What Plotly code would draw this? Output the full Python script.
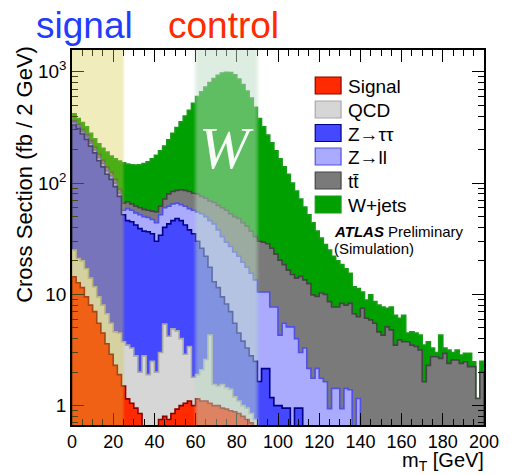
import plotly.graph_objects as go

# ---------------- data (2 GeV bins, 0-200 GeV) ----------------
bin_edges = list(range(0, 202, 2))

signal = [14.4, 12.7, 11.5, 9.5, 8.0, 7.0, 5.5, 4.5, 3.6, 2.9, 2.3, 1.9, 1.5,
          1.15, 1.05, 0.95, 0.85, 0.6, 0.55, 0.6, 0.62, 0.75, 0.8, 0.75, 0.85, 0.93, 1.0, 1.05, 1.1, 1.0,
          1.15, 1.1, 1.1, 1.05, 1.0, 1.0, 0.95, 0.93, 0.9, 0.88, 0.85, 0.8, 0.75, 0.7, 0.65,
          0, 0, 0, 0, 0, 0, 0, 0, 0, 0, 0, 0, 0, 0, 0, 0, 0, 0, 0, 0, 0, 0,
          0, 0, 0, 0, 0, 0, 0, 0, 0, 0, 0, 0, 0, 0, 0, 0, 0, 0, 0, 0, 0, 0,
          0, 0, 0, 0, 0, 0, 0, 0, 0, 0, 0]

qcd = [10.6, 8.3, 8.5, 7.5, 6.0, 4.7, 4.0, 3.5, 3.1, 2.6, 2.3, 2.6, 2.25,
       2.35, 2.25, 1.85, 1.15, 2.2, 1.35, 1.9, 1.38, 2.25, 4.6, 3.45, 4.05, 3.77, 3.0, 1.85, 2.3, 0.8,
       0.75, 1.0, 1.5, 3.25, 0.55, 0.5, 0.6, 0.52, 0.5, 0.32, 0.25, 0.2, 0.2, 0.15, 0.1,
       0, 0, 0, 0, 0, 0, 0, 0, 0, 0, 0, 0, 0, 0, 0, 0, 0, 0, 0, 0, 0, 0,
       0, 0, 0, 0, 0, 0, 0, 0, 0, 0, 0, 0, 0, 0, 0, 0, 0, 0, 0, 0, 0, 0,
       0, 0, 0, 0, 0, 0, 0, 0, 0, 0, 0]

ztautau = [308, 289, 256, 230, 201, 175.3, 149.5, 132, 113.3, 102.5, 88.4, 71.5, 48.25,
           42.5, 41.7, 39.2, 37, 34.2, 34.6, 32.5, 28, 31, 34.6, 38.8, 41.1, 43.3, 42, 39.1, 34.6, 33.2,
           28.1, 23.9, 19.4, 13.2, 11.45, 10.0, 7.95, 6.75, 5.6, 4.3, 3.4, 2.8, 2.35, 1.95, 1.75,
           1.65, 2.15, 2.15, 1.18, 1.0, 1.0, 0.95, 0.95, 0.6, 0.95, 0.95,
           0, 0, 0, 0, 0, 0, 0, 0, 0, 0, 0, 0, 0, 0, 0, 0, 0, 0, 0, 0, 0, 0,
           0, 0, 0, 0, 0, 0, 0, 0, 0, 0, 0, 0, 0, 0, 0, 0, 0, 0, 0, 0, 0, 0]

zll = [15, 15, 14, 13, 13, 11, 11, 10, 9, 8, 7, 5, 5,
       13, 12, 12, 13, 13, 12.5, 12, 14, 18, 20, 19, 19, 18, 18, 20, 21, 22,
       25, 27, 28, 28.5, 30, 26.5, 23.5, 21.3, 20, 18.5, 17.5, 15.7, 14.2, 12.7, 11,
       8.85, 8.35, 8.35, 6.52, 6.7, 3.3, 4.55, 4.15, 4.5, 3.05, 2.05, 3.3, 2.16, 1.76, 2.16,
       1.76, 1.64, 0.94, 1.43, 1.43, 0.94, 1.43, 1.39, 0, 1.16,
       0, 0, 0, 0, 0, 0, 0, 0, 0, 0, 0, 0, 0, 0, 0,
       0, 0, 0, 0, 0, 0, 0, 0, 0, 0, 0, 0, 0, 0, 0]

ttbar = [14, 13, 12, 12, 12, 12, 11, 10, 10, 9, 8, 7, 9,
         9, 8, 8, 8, 8, 8, 9, 11, 10, 12, 18, 19, 20, 23, 24, 25, 24,
         25, 23, 23, 23, 24, 25, 27, 27.5, 26, 26, 26, 24.5, 23.5, 21.5, 19.5,
         19.5, 19, 18, 18.3, 15.3, 16, 13, 11.4, 10, 10, 11.5, 10.2, 10.34, 8.14, 7.44,
         8.54, 8.36, 7.66, 6.27, 6.27, 7.36, 6.57,
         6.91, 6.7, 5.14, 7.5, 6.1, 5.9, 5.5, 4.6, 4.3, 5.1, 4.8, 3.5, 3.9, 3.75, 3.75,
         3.5, 3.4, 3.16, 1.64, 2.3, 2.75, 2.75, 2.66, 2.95, 2.4, 2.57, 2.57, 2.4, 2.48,
         2.24, 2.24, 1.16, 2.0]

wjets = [58, 42, 48, 48, 40, 40, 44, 45, 51, 50, 57, 70, 86,
         80, 81, 83, 86, 92, 98, 109, 123, 133, 143, 165, 196, 229, 268, 314, 366, 439,
         520, 584, 657, 731, 803, 867, 915, 933, 932, 890, 812, 726, 629, 543, 447,
         350, 290.5, 241.5, 204, 172, 144.7, 121.5, 103.5, 84.9, 71, 57.5, 47.5, 39.5, 34.1, 27.4,
         21.7, 18, 16.4, 14.3, 12.3, 10.2, 9.0,
         7.2, 5.0, 5.0, 3.0, 2.8, 4.0, 3.1, 3.4, 3.4, 2.4, 2.9, 3.0, 2.2, 2.75, 0.75,
         1.1, 1.1, 1.14, 1.86, 1.45, 0.55, 0.25, 1.64, 0.35, 0.76, 0.43, 0.59, 0.45, 0.47,
         0.71, 0.24, 0.0, 0.5]

legend_labels = ["Signal", "QCD", "Z\u2192\u03c4\u03c4", "Z\u2192ll", "tt\u0304", "W+jets"]
x_tick_vals = [0, 20, 40, 60, 80, 100, 120, 140, 160, 180, 200]
y_tick_vals = [1, 10, 100, 1000]
y_tick_text = ["1", "10", "10<sup>2</sup>", "10<sup>3</sup>"]
y_minor_vals = [0.7, 0.8, 0.9, 2, 3, 4, 5, 6, 7, 8, 9, 20, 30, 40, 50, 60, 70, 80, 90,
                200, 300, 400, 500, 600, 700, 800, 900]

# ---------------- styles ----------------
fills = ["#ff2a00", "#d6d6d6", "#4448ff", "#aaaaff", "#7a7a7a", "#00a000"]
lines = ["#8a0000", "#a8a8a8", "#00008a", "#5050e6", "#444444", "#1a9a1a"]

W, H = 511, 475
L, R, T, B = 72, 24, 50, 50
pw, ph = W - L - R, H - T - B


def px(xp):
    return (xp - L) / pw


def py(yp):
    return (H - B - yp) / ph


series = [signal, qcd, ztautau, zll, ttbar, wjets]
nb = len(bin_edges) - 1
cum = []
run = [0.0] * nb
for s in series:
    run = [run[i] + s[i] for i in range(nb)]
    cum.append(run)

floor = 1e-3
fig = go.Figure()
for k in range(len(series) - 1, -1, -1):
    xs, ys = [bin_edges[0]], [floor]
    for i in range(nb):
        v = max(cum[k][i], floor)
        xs += [bin_edges[i], bin_edges[i + 1]]
        ys += [v, v]
    xs.append(bin_edges[-1])
    ys.append(floor)
    fig.add_trace(go.Scatter(x=xs, y=ys, mode="lines", fill="toself",
                             fillcolor=fills[k], line=dict(color=lines[k], width=1.6),
                             hoverinfo="skip", showlegend=False))

shapes = []
# yellow "signal" band 0-25 GeV
shapes.append(dict(type="rect", xref="x", yref="paper", x0=0, x1=24.6, y0=0, y1=1,
                   fillcolor="rgba(215,200,60,0.35)", line=dict(width=0), layer="above"))
for j, a in enumerate([0.24, 0.12]):
    shapes.append(dict(type="rect", xref="x", yref="paper", x0=24.6 + 0.5 * j, x1=25.1 + 0.5 * j,
                       y0=0, y1=1, fillcolor="rgba(215,200,60,%.2f)" % a,
                       line=dict(width=0), layer="above"))
# green "control" band 60-90 GeV
shapes.append(dict(type="rect", xref="x", yref="paper", x0=60.8, x1=89.2, y0=0, y1=1,
                   fillcolor="rgba(190,220,195,0.5)", line=dict(width=0), layer="above"))
for j, a in enumerate([0.38, 0.25, 0.13]):
    for (x0, x1) in [(60.8 - 0.6 * (j + 1), 60.8 - 0.6 * j), (89.2 + 0.6 * j, 89.2 + 0.6 * (j + 1))]:
        shapes.append(dict(type="rect", xref="x", yref="paper", x0=x0, x1=x1, y0=0, y1=1,
                           fillcolor="rgba(190,220,195,%.2f)" % a,
                           line=dict(width=0), layer="above"))

annotations = []
# legend
entry_y = [85.5, 109.5, 133, 156.5, 180.5, 204.5]
for k in range(6):
    yc = entry_y[k]
    shapes.append(dict(type="rect", xref="paper", yref="paper", x0=px(317), x1=px(343),
                       y0=py(yc + 8.5), y1=py(yc - 8.5), fillcolor=fills[k],
                       line=dict(color=lines[k], width=1.2), layer="above"))
    annotations.append(dict(xref="paper", yref="paper", x=px(348), y=py(yc + 1),
                            xanchor="left", yanchor="middle", showarrow=False,
                            text=legend_labels[k],
                            font=dict(family="Liberation Sans", size=19, color="black")))

annotations += [
    dict(xref="paper", yref="paper", x=px(334), y=py(231), xanchor="left", yanchor="middle",
         showarrow=False, text="<b><i>ATLAS</i></b> Preliminary",
         font=dict(family="Liberation Sans", size=15, color="black")),
    dict(xref="paper", yref="paper", x=px(334), y=py(249), xanchor="left", yanchor="middle",
         showarrow=False, text="(Simulation)",
         font=dict(family="Liberation Sans", size=15, color="black")),
    dict(xref="paper", yref="paper", x=px(228), y=py(148), xanchor="center", yanchor="middle",
         showarrow=False, text="<i>W</i>",
         font=dict(family="Liberation Serif", size=60, color="rgba(255,255,255,0.95)")),
    dict(xref="paper", yref="paper", x=px(34), y=py(25), xanchor="left", yanchor="middle",
         showarrow=False, text="signal",
         font=dict(family="Liberation Sans", size=37, color="#1f3cff")),
    dict(xref="paper", yref="paper", x=px(167), y=py(25), xanchor="left", yanchor="middle",
         showarrow=False, text="control",
         font=dict(family="Liberation Sans", size=37, color="#ff2a00")),
    dict(xref="paper", yref="paper", x=px(24), y=py(44), xanchor="center", yanchor="top",
         showarrow=False, textangle=-90, text="Cross Section (fb / 2 GeV)",
         font=dict(family="Liberation Sans", size=22, color="black")),
    dict(xref="paper", yref="paper", x=px(489), y=py(476), xanchor="right", yanchor="bottom",
         showarrow=False, text="m<sub>T</sub> [GeV]",
         font=dict(family="Liberation Sans", size=20, color="black")),
]

fig.update_layout(
    width=W, height=H, margin=dict(l=L, r=R, t=T, b=B),
    paper_bgcolor="white", plot_bgcolor="white", showlegend=False,
    shapes=shapes, annotations=annotations,
    xaxis=dict(range=[0, 200], tickvals=x_tick_vals, ticks="inside", ticklen=12, tickwidth=1.2,
               tickcolor="black", showline=True, linecolor="black", linewidth=1.5,
               mirror="ticks", showgrid=False, zeroline=False,
               minor=dict(dtick=5, ticks="inside", ticklen=6, tickwidth=1, tickcolor="black"),
               tickfont=dict(family="Liberation Sans", size=18, color="black")),
    yaxis=dict(type="log", range=[-0.174, 3.196], tickvals=y_tick_vals, ticktext=y_tick_text,
               ticks="inside", ticklen=12, tickwidth=1.2, tickcolor="black",
               showline=True, linecolor="black", linewidth=1.5, mirror="ticks",
               showgrid=False, zeroline=False,
               minor=dict(tickvals=y_minor_vals, ticks="inside", ticklen=6, tickwidth=1,
                          tickcolor="black"),
               tickfont=dict(family="Liberation Sans", size=19, color="black")),
)

fig.write_html("out.html")
